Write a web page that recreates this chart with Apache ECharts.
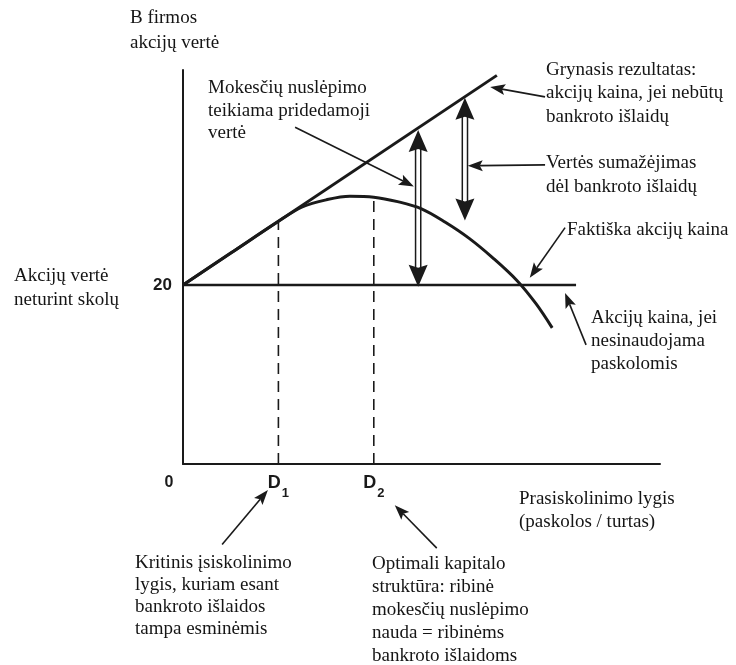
<!DOCTYPE html>
<html>
<head>
<meta charset="utf-8">
<script src="https://cdn.jsdelivr.net/npm/echarts@6/dist/echarts.min.js"></script>
<style>
  html, body { margin: 0; padding: 0; background: #fff; }
  #chart { width: 736px; height: 665px; }
</style>
</head>
<body>
<div id="chart"></div>
<script>
// debt level (0..100) on x, firm share value on y
const netLine = [[0, 20], [65.8, 43.4]];          // akcijų kaina, jei nebūtų bankroto išlaidų
const unleveredLine = [[0, 20], [82.4, 20]];      // akcijų kaina, jei nesinaudojama paskolomis
const actualPrice = [
  [0, 20], [10, 23.55], [20, 27.1], [25, 28.7], [30, 29.5], [35, 29.9], [40, 29.8],
  [45, 29.3], [50, 28.5], [55, 27.0], [60, 25.2], [65, 23.0], [70, 20.5], [74, 17.9], [77.4, 15.2]
];
const debtMarks = [20, 40];                        // D1, D2
const xTickValues = [0, 20, 40];
const xTickLabels = ['0', 'D1', 'D2'];
const yTickValues = [20];
const yTickLabels = ['20'];
// [x, bottom, top] of the double-headed arrows
const gapArrows = [[49.3, 19.8, 37.3], [59.1, 27.2, 40.9]];

// annotation pointers, [fromX, fromY, toX, toY] in axis units
const pointers = [
  [23.5, 37.6, 48.4, 31.0],
  [75.9, 41.0, 64.4, 42.1],
  [75.9, 33.4, 59.7, 33.3],
  [80.1, 26.4, 72.7, 20.8],
  [84.5, 13.3, 80.1, 19.1],
  [8.2, -9.0, 17.8, -2.9],
  [53.2, -9.4, 44.4, -4.6]
];

const ink = '#1a1a1a';
const serif = '"Liberation Serif", "Times New Roman", serif';
const sans = '"Liberation Sans", Arial, sans-serif';

const notes = [
  { text: 'B firmos\nakcijų vertė', left: 130, top: 6, lh: 25 },
  { text: 'Mokesčių nuslėpimo\nteikiama pridedamoji\nvertė', left: 208, top: 77, lh: 22.5 },
  { text: 'Grynasis rezultatas:\nakcijų kaina, jei nebūtų\nbankroto išlaidų', left: 546, top: 58, lh: 23.5 },
  { text: 'Vertės sumažėjimas\ndėl bankroto išlaidų', left: 546, top: 151, lh: 24 },
  { text: 'Faktiška akcijų kaina', left: 567, top: 218, lh: 24 },
  { text: 'Akcijų kaina, jei\nnesinaudojama\npaskolomis', left: 591, top: 307, lh: 23 },
  { text: 'Akcijų vertė\nneturint skolų', left: 14, top: 264, lh: 24 },
  { text: 'Prasiskolinimo lygis\n(paskolos / turtas)', left: 519, top: 488, lh: 23 },
  { text: 'Kritinis įsiskolinimo\nlygis, kuriam esant\nbankroto išlaidos\ntampa esminėmis', left: 135, top: 552, lh: 22 },
  { text: 'Optimali kapitalo\nstruktūra: ribinė\nmokesčių nuslėpimo\nnauda = ribinėms\nbankroto išlaidoms', left: 372, top: 553, lh: 22.8 }
];

function priceAt(x) {
  const p = actualPrice.find(d => d[0] === x);
  return p ? p[1] : 0;
}

const chart = echarts.init(document.getElementById('chart'), null, { renderer: 'canvas' });

const option = {
  animation: false,
  backgroundColor: '#fff',
  grid: { left: 183, right: 76, top: 70, bottom: 201 },
  xAxis: {
    type: 'value',
    min: 0,
    max: 100,
    axisLine: { show: true, onZero: false, lineStyle: { color: ink, width: 2 } },
    axisTick: { show: false },
    splitLine: { show: false },
    axisLabel: {
      customValues: xTickValues,
      margin: 14,
      color: ink,
      formatter: function (v) {
        const lab = xTickLabels[xTickValues.indexOf(v)] || '';
        if (lab.length === 1) return '{z|' + lab + '}';
        return '{d|' + lab[0] + '}{s|' + lab.slice(1) + '}';
      },
      rich: {
        z: { fontFamily: sans, fontWeight: 'bold', fontSize: 16, lineHeight: 10, padding: [0, 28, 0, 0], color: ink },
        d: { fontFamily: sans, fontWeight: 'bold', fontSize: 18, lineHeight: 20, padding: [0, 0, 9, 0], color: ink },
        s: { fontFamily: sans, fontWeight: 'bold', fontSize: 13, lineHeight: 12, padding: [10, 0, 0, 1], color: ink }
      }
    }
  },
  yAxis: {
    type: 'value',
    min: 0,
    max: 44,
    axisLine: { show: true, onZero: false, lineStyle: { color: ink, width: 2 } },
    axisTick: { show: false },
    splitLine: { show: false },
    axisLabel: {
      customValues: yTickValues,
      margin: 11,
      color: ink,
      fontFamily: sans,
      fontWeight: 'bold',
      fontSize: 17,
      padding: [8, 0, 0, 0],
      formatter: v => yTickLabels[yTickValues.indexOf(v)] || ''
    }
  },
  series: [
    {
      type: 'line',
      data: netLine,
      showSymbol: false,
      lineStyle: { color: ink, width: 3 }
    },
    {
      type: 'line',
      data: unleveredLine,
      showSymbol: false,
      lineStyle: { color: ink, width: 2.5 }
    },
    {
      type: 'line',
      data: actualPrice,
      smooth: 0.35,
      showSymbol: false,
      lineStyle: { color: ink, width: 3 }
    },
    ...debtMarks.map(d => ({
      type: 'line',
      data: [[d, 0], [d, priceAt(d)]],
      showSymbol: false,
      lineStyle: { color: ink, width: 1.6, type: [11, 7] }
    })),
    {
      // hollow double-headed arrows
      type: 'custom',
      data: gapArrows,
      encode: { x: 0, y: [1, 2] },
      renderItem: function (params, api) {
        const b = api.coord([api.value(0), api.value(1)]);
        const t = api.coord([api.value(0), api.value(2)]);
        const x = t[0], head = 22, half = 9.5, notch = 3, gap = 2.6;
        const shaft = { stroke: ink, lineWidth: 1.5 };
        return {
          type: 'group',
          children: [
            { type: 'line', shape: { x1: x - gap, y1: t[1] + head - notch, x2: x - gap, y2: b[1] - head + notch }, style: shaft },
            { type: 'line', shape: { x1: x + gap, y1: t[1] + head - notch, x2: x + gap, y2: b[1] - head + notch }, style: shaft },
            { type: 'polygon', shape: { points: [[x, t[1]], [x - half, t[1] + head], [x, t[1] + head - notch], [x + half, t[1] + head]] }, style: { fill: ink } },
            { type: 'polygon', shape: { points: [[x, b[1]], [x - half, b[1] - head], [x, b[1] - head + notch], [x + half, b[1] - head]] }, style: { fill: ink } }
          ]
        };
      }
    },
    {
      // thin annotation pointers
      type: 'custom',
      data: pointers,
      clip: false,
      encode: { x: [0, 2], y: [1, 3] },
      renderItem: function (params, api) {
        const a = api.coord([api.value(0), api.value(1)]);
        const b = api.coord([api.value(2), api.value(3)]);
        const ang = Math.atan2(b[1] - a[1], b[0] - a[0]);
        const len = 15, half = 5.5;
        const ux = Math.cos(ang), uy = Math.sin(ang);
        const bx = b[0] - ux * len, by = b[1] - uy * len;
        const nx = b[0] - ux * (len - 3), ny = b[1] - uy * (len - 3);
        return {
          type: 'group',
          children: [
            { type: 'line', shape: { x1: a[0], y1: a[1], x2: nx, y2: ny }, style: { stroke: ink, lineWidth: 1.6 } },
            {
              type: 'polygon',
              shape: { points: [[b[0], b[1]], [bx - uy * half, by + ux * half], [nx, ny], [bx + uy * half, by - ux * half]] },
              style: { fill: ink }
            }
          ]
        };
      }
    }
  ],
  graphic: notes.map(n => ({
    type: 'text',
    left: n.left,
    top: n.top,
    silent: true,
    style: {
      text: n.text,
      fill: '#151515',
      font: '19px ' + serif,
      lineHeight: n.lh
    }
  }))
};

chart.setOption(option);
</script>
</body>
</html>
